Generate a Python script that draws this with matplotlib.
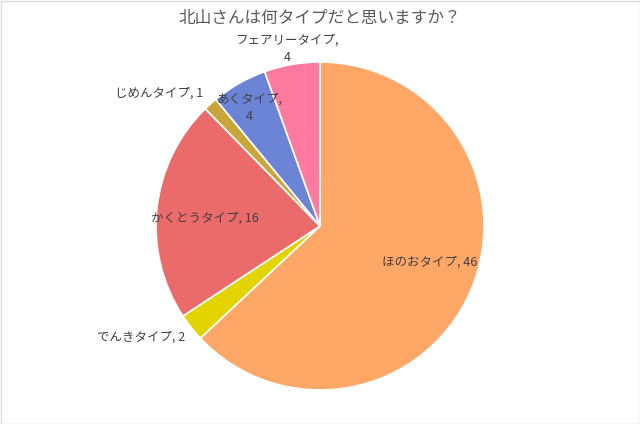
import numpy as np
import matplotlib
matplotlib.use("Agg")
import matplotlib.pyplot as plt
from matplotlib.patches import Rectangle

plt.rcParams['font.family'] = ['Noto Sans CJK JP', 'DejaVu Sans']

title = "北山さんは何タイプだと思いますか？"
names = ["ほのおタイプ", "でんきタイプ", "かくとうタイプ", "じめんタイプ", "あくタイプ", "フェアリータイプ"]
counts = [46, 2, 16, 1, 4, 4]
colors = ["#FFA766", "#E3D400", "#EB6A6A", "#C9A53A", "#6B84D6", "#FF7A9E"]

# label placement (in pie-radius units) and line breaks
label_pos = [(0.67, -0.22), (-1.09, -0.68), (-0.70, 0.05), (-0.98, 0.81), (-0.43, 0.72), (-0.20, 1.08)]
label_split = [False, False, False, False, True, True]

fig = plt.figure(figsize=(6.4, 4.24), dpi=100)
W, H = 640, 424
cx, cy, r = 320, 226, 164
ax = fig.add_axes([(cx - r) / W, (H - cy - r) / H, 2 * r / W, 2 * r / H])

ax.pie(counts, colors=colors, startangle=90, counterclock=False, radius=1,
       wedgeprops=dict(edgecolor="white", linewidth=1.2))
ax.set_xlim(-1, 1)
ax.set_ylim(-1, 1)
ax.set_aspect("equal")
ax.axis("off")

for name, n, (x, y), split in zip(names, counts, label_pos, label_split):
    txt = f"{name},\n{n}" if split else f"{name}, {n}"
    ax.text(x, y, txt, ha="center", va="center", fontsize=9, color="#404040",
            linespacing=1.5, clip_on=False)

fig.text(0.5, 1 - 18 / H, title, ha="center", va="center", fontsize=12, color="#595959")

fig.patches.append(Rectangle((0.5 / W, 0.5 / H), 1 - 1 / W, 1 - 1 / H, transform=fig.transFigure,
                             fill=False, edgecolor="#D9D9D9", linewidth=1))

fig.savefig("out.png", dpi=100)
